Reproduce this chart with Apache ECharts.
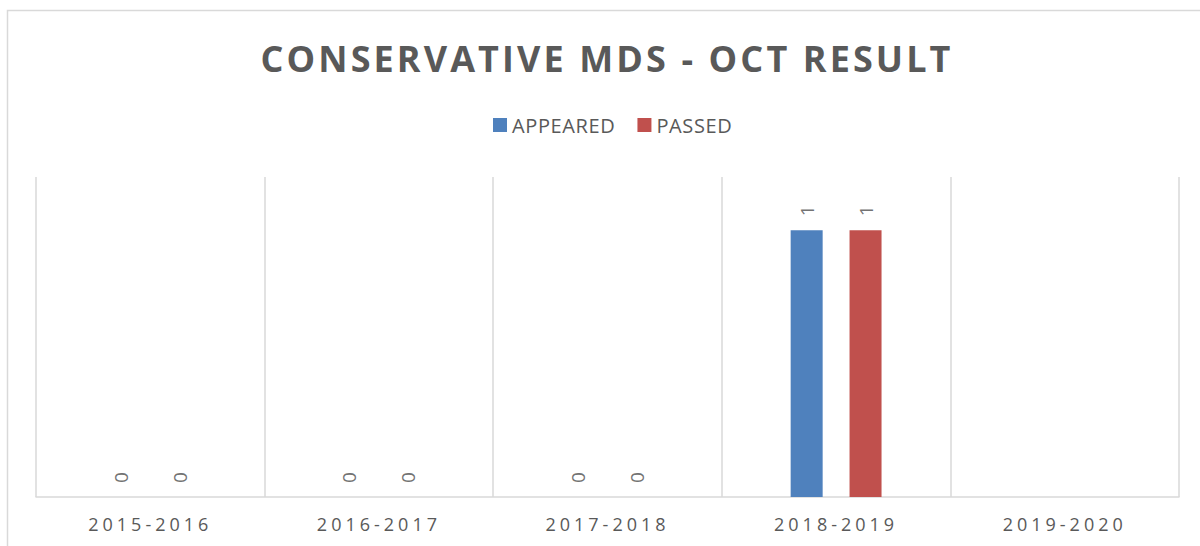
<!DOCTYPE html>
<html>
<head>
<meta charset="utf-8">
<script src="https://cdn.jsdelivr.net/npm/echarts@6/dist/echarts.min.js"></script>
<style>
  html, body { margin: 0; padding: 0; background: #fff; }
  #chart { width: 1200px; height: 546px; }
  #chart text[style*="18px"] { letter-spacing: 4px; }
  #chart text[style*="36px"] { letter-spacing: 3.1px; }
  #chart text[style*="20px"] { letter-spacing: 0.6px; }
</style>
</head>
<body>
<div id="chart"></div>
<script>
const titleText = 'CONSERVATIVE MDS - OCT RESULT';
const categories = ['2015-2016', '2016-2017', '2017-2018', '2018-2019', '2019-2020'];
const seriesNames = ['APPEARED', 'PASSED'];
const appeared = [0, 0, 0, 1, null];
const passed = [0, 0, 0, 1, null];
const colors = ['#4F81BD', '#C0504D'];

const chart = echarts.init(document.getElementById('chart'), null, { renderer: 'svg' });
const labelCfg = {
  show: true,
  position: 'top',
  rotate: 90,
  align: 'left',
  verticalAlign: 'middle',
  distance: 14,
  color: '#737373',
  fontFamily: 'Open Sans',
  fontSize: 19
};
chart.setOption({
  animation: false,
  color: colors,
  graphic: [{
    type: 'rect',
    shape: { x: 7.5, y: 10.5, width: 1300, height: 700 },
    style: { fill: 'none', stroke: '#D9D9D9', lineWidth: 1.5 },
    silent: true
  }],
  title: {
    text: titleText,
    left: 602,
    textAlign: 'center',
    top: 35,
    padding: 5,
    textStyle: { fontFamily: 'Open Sans', fontWeight: 'bold', fontSize: 36, color: '#595959' }
  },
  legend: {
    top: 110,
    left: 488,
    padding: 5,
    itemWidth: 14,
    itemHeight: 14,
    itemGap: 27,
    icon: 'rect',
    textStyle: { fontFamily: 'Open Sans', fontSize: 20, color: '#595959' },
    data: seriesNames
  },
  grid: { left: 36, right: 21, top: 177, bottom: 49, containLabel: false },
  xAxis: {
    type: 'category',
    data: categories,
    axisLine: { lineStyle: { color: '#D9D9D9', width: 1.5 } },
    axisTick: { show: false },
    splitLine: { show: true, lineStyle: { color: '#D9D9D9', width: 1.5 } },
    axisLabel: { margin: 18, color: '#595959', fontFamily: 'Open Sans', fontSize: 18 }
  },
  yAxis: {
    type: 'value',
    min: 0,
    max: 1.2,
    show: false,
    splitLine: { show: false }
  },
  series: [
    { name: seriesNames[0], type: 'bar', data: appeared, barWidth: 32, barGap: '84%', label: labelCfg },
    { name: seriesNames[1], type: 'bar', data: passed, barWidth: 32, barGap: '84%', label: labelCfg }
  ]
});
</script>
</body>
</html>
